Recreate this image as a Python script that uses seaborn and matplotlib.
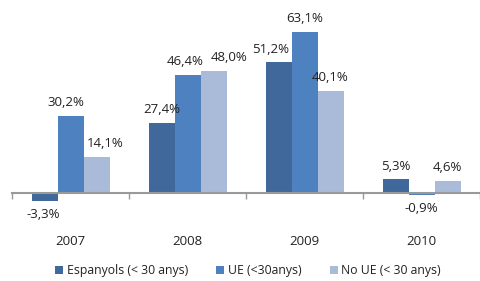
import seaborn as sns
import matplotlib.pyplot as plt
import pandas as pd

years = ['2007', '2008', '2009', '2010']
espanyols = [-3.3, 27.4, 51.2, 5.3]
ue = [30.2, 46.4, 63.1, -0.9]
no_ue = [14.1, 48.0, 40.1, 4.6]
series = ['Espanyols (< 30 anys)', 'UE (<30anys)', 'No UE (< 30 anys)']
colors = ['#41689B', '#4D81BF', '#AABAD9']

df = pd.DataFrame({
    'any': years * 3,
    'valor': espanyols + ue + no_ue,
    'grup': [s for s in series for _ in years],
})

sns.set_style('white')
plt.rcParams['font.family'] = ['Open Sans', 'DejaVu Sans']

fig = plt.figure(figsize=(4.81, 2.81), dpi=100)
ax = fig.add_axes([0.025, 0.2587, 0.973, 0.6715])

sns.barplot(data=df, x='any', y='valor', hue='grup', palette=colors,
            width=0.667, gap=0, saturation=1, linewidth=0, ax=ax, legend=True)

# small horizontal nudges (points) like the spreadsheet's label placement
nudge = {(0, 0): -1, (1, 0): -3, (2, 0): 6, (0, 2): -6, (1, 1): -2, (2, 1): 11}
for i, (cont, vals) in enumerate(zip(ax.containers, [espanyols, ue, no_ue])):
    labs = [f'{v:.1f}%'.replace('.', ',') for v in vals]
    texts = ax.bar_label(cont, labels=labs, padding=5, fontsize=9.5, color='#222222')
    for j, t in enumerate(texts):
        dx = nudge.get((i, j), 0)
        t.xyann = (dx, t.xyann[1])

ax.set_ylim(-6, 68)
ax.set_xlim(-0.5, 3.5)
for s in ['top', 'right', 'left']:
    ax.spines[s].set_visible(False)
ax.spines['bottom'].set_position(('data', 0))
ax.spines['bottom'].set_color('#999999')
ax.spines['bottom'].set_linewidth(1.5)
ax.set_yticks([])
ax.set_xlabel('')
ax.set_ylabel('')
ax.set_xticks([-0.5, 0.5, 1.5, 2.5, 3.5], minor=True)
ax.tick_params(axis='x', which='minor', direction='out', length=4, width=1, color='#999999', bottom=True)
ax.tick_params(axis='x', which='major', length=0, pad=30, labelsize=9.5, labelcolor='#222222')

handles, labels = ax.get_legend_handles_labels()
ax.get_legend().remove()
fig.legend(handles, labels, loc='center', bbox_to_anchor=(0.516, 0.036), ncol=3,
           frameon=False, fontsize=8.8, handlelength=0.65, handleheight=0.65,
           handletextpad=0.3, columnspacing=2.3, labelcolor='#222222')

fig.savefig('out.png', dpi=100)
